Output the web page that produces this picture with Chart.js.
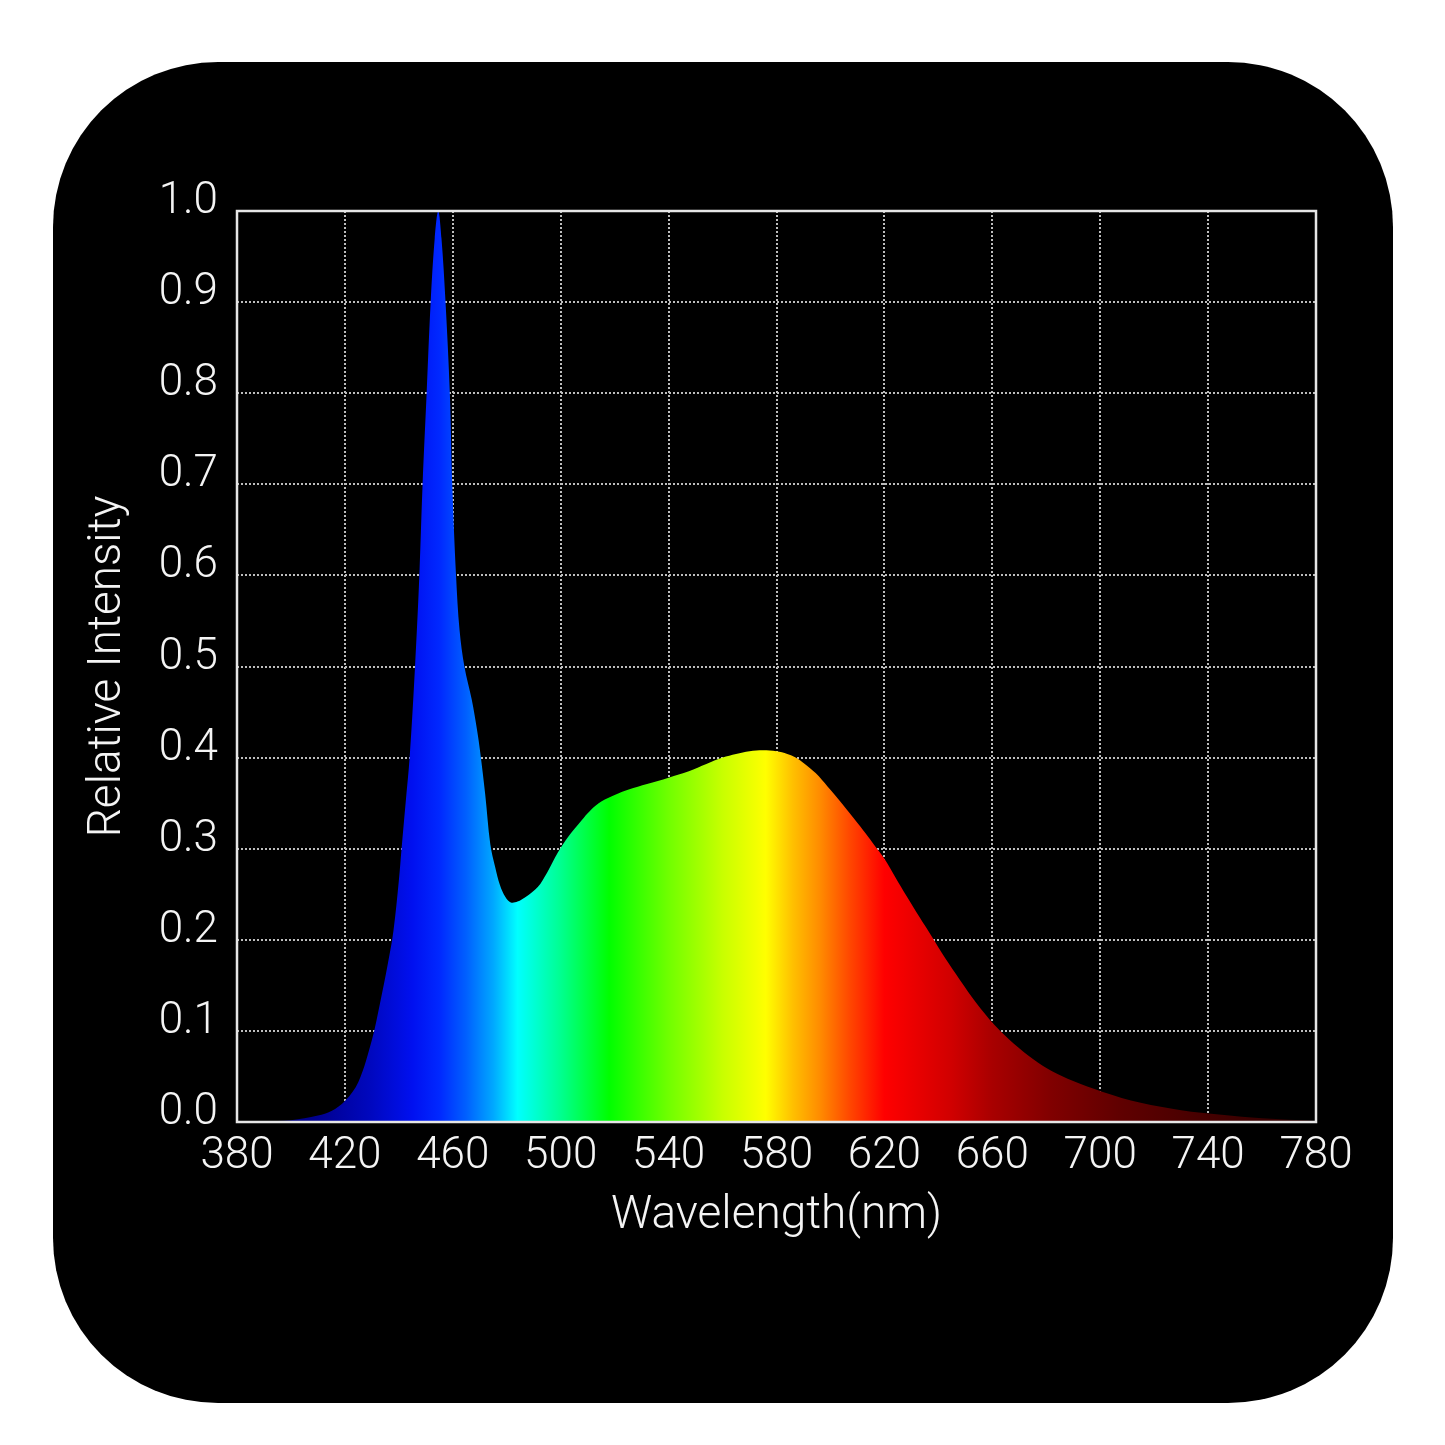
<!DOCTYPE html>
<html>
<head>
<meta charset="utf-8">
<script src="https://cdn.jsdelivr.net/npm/chart.js@4.4.1/dist/chart.umd.min.js"></script>
<style>
  html, body { margin: 0; padding: 0; background: #fff; }
  #panel { position: absolute; left: 53px; top: 62px; width: 1340px; height: 1341px; background: #000; border-radius: 165px; }
  #chart { position: absolute; left: 0; top: 0; }
</style>
</head>
<body>
<div id="panel"></div>
<canvas id="chart" width="1445" height="1445"></canvas>
<script>
// spectrum (nm, relative intensity)
const wavelengths = [380, 390, 400, 410, 415, 420, 425, 430, 433, 436, 438, 440, 441, 442.5, 444, 446, 447.6, 448.8, 450.3, 451.8, 453.3, 454.6, 455.8, 457.3, 458.9, 459.8, 461.2, 462.5, 464.3, 467, 469, 470.2, 472, 473.9, 475.7, 477.5, 479.5, 481.5, 484, 487, 491.5, 495, 499, 503, 507.7, 511, 515.2, 520, 525.2, 532, 540, 547.5, 554, 560, 565, 570, 575, 580, 584, 587.1, 590.5, 594.5, 599, 604.4, 609, 613, 616.5, 620, 624, 628.2, 633, 637.5, 642.5, 648, 654, 661, 668, 675.2, 682, 690, 701, 715, 730, 745, 760, 780];
const intensity = [0, 0.001, 0.002, 0.007, 0.012, 0.023, 0.044, 0.09, 0.13, 0.175, 0.21, 0.265, 0.3, 0.35, 0.4, 0.5, 0.6, 0.7, 0.8, 0.9, 0.97, 1.0, 0.97, 0.9, 0.8, 0.7, 0.6, 0.54, 0.5, 0.464, 0.43, 0.405, 0.36, 0.305, 0.28, 0.26, 0.247, 0.241, 0.242, 0.247, 0.258, 0.274, 0.296, 0.314, 0.331, 0.342, 0.352, 0.359, 0.365, 0.371, 0.378, 0.385, 0.393, 0.4, 0.404, 0.407, 0.408, 0.407, 0.404, 0.4, 0.393, 0.383, 0.368, 0.349, 0.332, 0.317, 0.303, 0.289, 0.269, 0.248, 0.225, 0.204, 0.18, 0.156, 0.131, 0.106, 0.086, 0.069, 0.056, 0.045, 0.033, 0.021, 0.013, 0.008, 0.004, 0.001];

const xTicks = [380, 420, 460, 500, 540, 580, 620, 660, 700, 740, 780];
const yTicks = [0, 0.1, 0.2, 0.3, 0.4, 0.5, 0.6, 0.7, 0.8, 0.9, 1.0];

// colour of the fill at each wavelength
const stopNm = [380, 410, 430, 445, 455, 465, 475, 484, 500, 518, 540, 560, 576, 586, 596, 607, 620, 645, 660, 682, 707, 740, 780];
const stopColor = ['#000060', '#000090', '#0008c0', '#0010f0', '#0028ff', '#0060ff', '#00a8ff', '#00ffff', '#00ff90', '#00ff00', '#70ff00', '#c8ff00', '#ffff00', '#ffc000', '#ff8c00', '#ff4800', '#ff0000', '#d00000', '#a80000', '#800000', '#600000', '#440000', '#2a0000'];

const FONT = 'Roboto, "Open Sans", sans-serif';

function spectrumFill(context) {
  const chart = context.chart;
  const area = chart.chartArea;
  if (!area) return '#0000ff';
  const x = chart.scales.x;
  const x0 = x.getPixelForValue(380), x1 = x.getPixelForValue(780);
  const g = chart.ctx.createLinearGradient(x0, 0, x1, 0);
  stopNm.forEach((nm, i) => {
    g.addColorStop((nm - 380) / 400, stopColor[i]);
  });
  return g;
}

// white frame around the plot area
const framePlugin = {
  id: 'frame',
  afterDatasetsDraw(chart) {
    const a = chart.chartArea, ctx = chart.ctx;
    ctx.save();
    ctx.strokeStyle = '#e6e6e6';
    ctx.lineWidth = 2.5;
    ctx.strokeRect(a.left, a.top, a.right - a.left, a.bottom - a.top);
    ctx.restore();
  }
};

new Chart(document.getElementById('chart'), {
  type: 'line',
  data: {
    datasets: [{
      data: wavelengths.map((w, i) => ({ x: w, y: intensity[i] })),
      fill: 'origin',
      backgroundColor: spectrumFill,
      borderWidth: 0,
      pointRadius: 0,
      tension: 0.35
    }]
  },
  options: {
    responsive: false,
    animation: false,
    layout: { padding: { left: 0, right: 129, top: 211, bottom: 193 } },
    plugins: { legend: { display: false }, tooltip: { enabled: false } },
    scales: {
      x: {
        type: 'linear',
        min: 380, max: 780,
        afterBuildTicks: (s) => { s.ticks = xTicks.map(v => ({ value: v })); },
        afterFit: (s) => { s.height = 130; },
        ticks: { color: '#f4f4f4', padding: 9, maxRotation: 0, autoSkip: false, font: { family: FONT, size: 44, weight: '300' } },
        grid: { color: '#bdbdbd', lineWidth: 2, drawTicks: false },
        border: { display: false, dash: [2, 2] },
        title: { display: true, text: 'Wavelength(nm)', color: '#f4f4f4', padding: { top: 0, bottom: 8 }, font: { family: FONT, size: 46, weight: '300' } }
      },
      y: {
        min: 0, max: 1,
        afterBuildTicks: (s) => { s.ticks = yTicks.map(v => ({ value: v })); },
        afterFit: (s) => { s.width = 237; },
        ticks: { color: '#f4f4f4', padding: 19, labelOffset: -9, autoSkip: false, font: { family: FONT, size: 44, weight: '300' }, callback: (v) => Number(v).toFixed(1) },
        grid: { color: '#bdbdbd', lineWidth: 2, drawTicks: false },
        border: { display: false, dash: [2, 2] },
        title: { display: true, text: 'Relative Intensity', color: '#f4f4f4', padding: { top: 81, bottom: 0 }, font: { family: FONT, size: 46, weight: '300' } }
      }
    }
  },
  plugins: [framePlugin]
});
</script>
</body>
</html>
